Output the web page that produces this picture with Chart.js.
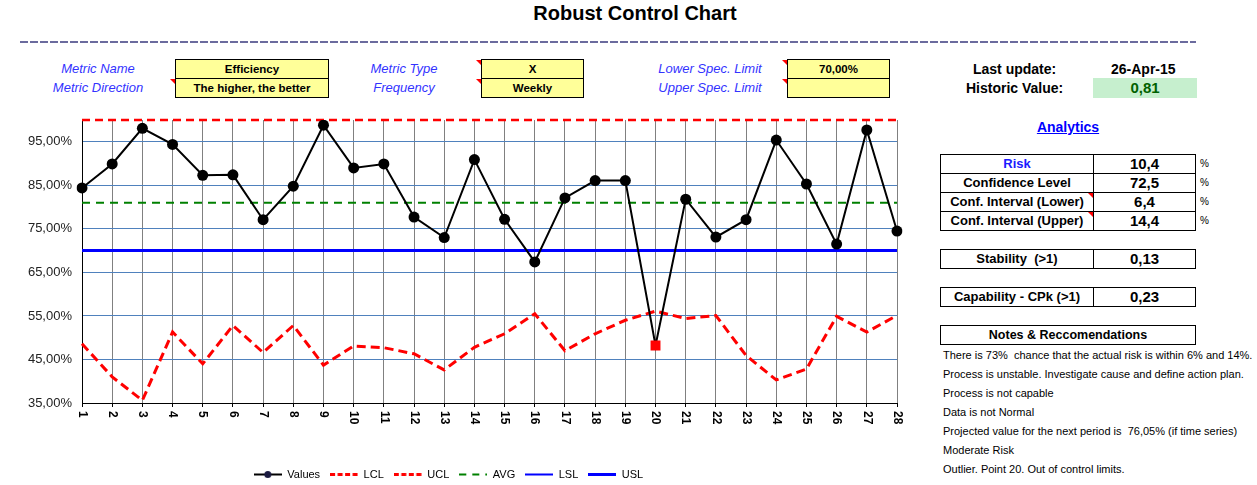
<!DOCTYPE html>
<html>
<head>
<meta charset="utf-8">
<script src="https://cdn.jsdelivr.net/npm/chart.js@4"></script>
<style>
body{margin:0;background:#fff;font-family:Arial,"Liberation Sans",sans-serif;}
#page{position:relative;width:1257px;height:485px;overflow:hidden;}
.a{position:absolute;white-space:nowrap;}
.lbl{position:absolute;width:120px;text-align:center;font-style:italic;font-size:13px;color:#3333ff;line-height:19px;}
.ybox{position:absolute;top:59px;height:39px;background:#ffff99;border:1px solid #000;box-sizing:border-box;}
.ybox div{height:18px;line-height:18px;text-align:center;font-weight:bold;font-size:11.5px;}
.ybox div+div{border-top:1px solid #000;}
.tri{position:absolute;width:0;height:0;border-top:5px solid #f00;border-left:5px solid transparent;}
.hdr{position:absolute;font-weight:bold;font-size:14px;line-height:19px;}
table.t{position:absolute;left:940px;width:256px;border-collapse:collapse;}
table.t td{border:1px solid #000;height:18px;padding:0;text-align:center;line-height:18px;}
table.t td.k{width:152px;font-weight:bold;font-size:13px;position:relative;}
table.t td.v{font-weight:bold;font-size:15px;}
.pct{position:absolute;left:1200px;font-size:10px;line-height:19px;color:#000;}
.note{position:absolute;left:943px;font-size:11px;line-height:19px;}
</style>
</head>
<body>
<div id="page">
  <div class="a" style="left:0;width:1270px;top:1px;text-align:center;font-weight:bold;font-size:20px;line-height:24px;">Robust Control Chart</div>
  <div class="a" style="left:20px;top:41px;width:1176px;height:2px;background:repeating-linear-gradient(90deg,#6b6b9e 0 8px,transparent 8px 10px);"></div>

  <div class="lbl" style="left:38px;top:59px;">Metric Name</div>
  <div class="lbl" style="left:38px;top:78px;">Metric Direction</div>
  <div class="ybox" style="left:175px;width:154px;"><div>Efficiency</div><div>The higher, the better</div></div>
  <div class="tri" style="left:170px;top:79px;"></div>

  <div class="lbl" style="left:344px;top:59px;">Metric Type</div>
  <div class="lbl" style="left:344px;top:78px;">Frequency</div>
  <div class="ybox" style="left:481px;width:103px;"><div>X</div><div>Weekly</div></div>
  <div class="tri" style="left:476px;top:60px;"></div>
  <div class="tri" style="left:476px;top:79px;"></div>

  <div class="lbl" style="left:650px;top:59px;">Lower Spec. Limit</div>
  <div class="lbl" style="left:650px;top:78px;">Upper Spec. Limit</div>
  <div class="ybox" style="left:787px;width:103px;"><div>70,00%</div><div></div></div>
  <div class="tri" style="left:782px;top:60px;"></div>
  <div class="tri" style="left:782px;top:79px;"></div>

  <div class="hdr" style="left:973px;top:60px;">Last update:</div>
  <div class="hdr" style="left:1111px;top:60px;">26-Apr-15</div>
  <div class="hdr" style="left:966px;top:79px;">Historic Value:</div>
  <div class="a" style="left:1093px;top:78px;width:104px;height:20px;background:#c6efce;color:#006100;font-weight:bold;font-size:15px;line-height:20px;text-align:center;">0,81</div>

  <div class="a" style="left:1018px;top:118px;width:100px;text-align:center;font-weight:bold;font-size:14px;line-height:18px;color:#0000ff;text-decoration:underline;">Analytics</div>

  <table class="t" style="top:154px;">
    <tr><td class="k" style="color:#1a1aff;">Risk</td><td class="v">10,4</td></tr>
    <tr><td class="k">Confidence Level</td><td class="v">72,5</td></tr>
    <tr><td class="k">Conf. Interval (Lower)<div class="tri" style="right:0;top:0;"></div></td><td class="v">6,4</td></tr>
    <tr><td class="k">Conf. Interval (Upper)<div class="tri" style="right:0;top:0;"></div></td><td class="v">14,4</td></tr>
  </table>
  <div class="pct" style="top:154px;">%</div>
  <div class="pct" style="top:173px;">%</div>
  <div class="pct" style="top:192px;">%</div>
  <div class="pct" style="top:211px;">%</div>

  <table class="t" style="top:249px;">
    <tr><td class="k">Stability &nbsp;(&gt;1)</td><td class="v">0,13</td></tr>
  </table>
  <table class="t" style="top:287px;">
    <tr><td class="k">Capability - CPk (&gt;1)</td><td class="v">0,23</td></tr>
  </table>
  <table class="t" style="top:325px;">
    <tr><td style="font-weight:bold;font-size:12.5px;">Notes &amp; Reccomendations</td></tr>
  </table>

  <div class="note" style="top:346px;">There is 73% &nbsp;chance that the actual risk is within 6% and 14%.</div>
  <div class="note" style="top:365px;">Process is unstable. Investigate cause and define action plan.</div>
  <div class="note" style="top:384px;">Process is not capable</div>
  <div class="note" style="top:403px;">Data is not Normal</div>
  <div class="note" style="top:422px;">Projected value for the next period is &nbsp;76,05% (if time series)</div>
  <div class="note" style="top:441px;">Moderate Risk</div>
  <div class="note" style="top:460px;">Outlier. Point 20. Out of control limits.</div>

  <canvas id="chart" width="930" height="380" style="position:absolute;left:0;top:110px;"></canvas>
</div>

<script>
const categories = ['1', '2', '3', '4', '5', '6', '7', '8', '9', '10', '11', '12', '13', '14',
                    '15', '16', '17', '18', '19', '20', '21', '22', '23', '24', '25', '26', '27', '28'];
const values = [84.4, 89.9, 98.1, 94.4, 87.3, 87.4, 77.1, 84.8, 98.8, 89.0, 89.9, 77.7, 73.0, 90.9,
                77.2, 67.4, 82.1, 86.1, 86.1, 48.2, 81.8, 73.1, 77.1, 95.4, 85.3, 71.5, 97.7, 74.5];
const lcl = [48.6, 41.0, 35.6, 51.3, 44.0, 52.8, 46.6, 52.8, 43.7, 48.1, 47.7, 46.3, 42.6, 47.8,
             50.9, 55.5, 47.0, 50.9, 54.0, 56.1, 54.4, 55.1, 45.9, 40.3, 42.8, 54.9, 51.3, 55.1];
const uclLevel = 100;
const avgLevel = 81.0;
const lslLevel = 70;
const uslLevel = null; // not set
const outliers = [20];
const yTicks = [35, 45, 55, 65, 75, 85, 95];

function legendIcon(color, width, dash, dot) {
    const c = document.createElement('canvas');
    c.width = 28; c.height = 9;
    const g = c.getContext('2d');
    g.strokeStyle = color;
    g.lineWidth = width;
    g.setLineDash(dash);
    g.beginPath(); g.moveTo(0, 4.5); g.lineTo(28, 4.5); g.stroke();
    if (dot) {
        g.fillStyle = dot;
        g.beginPath(); g.arc(14, 4.5, 3.5, 0, Math.PI * 2); g.fill();
    }
    return c;
}

const isOutlier = ctx => outliers.includes(Number(categories[ctx.dataIndex]));

// x labels read top-to-bottom like the spreadsheet, so draw them ourselves
const xLabels = {
    id: 'xLabels',
    afterDraw(chart) {
        const sc = chart.scales.x, ctx = chart.ctx;
        ctx.save();
        ctx.font = 'bold 12px Arial, "Liberation Sans"';
        ctx.fillStyle = '#000';
        ctx.textAlign = 'left';
        ctx.textBaseline = 'middle';
        sc.ticks.forEach((t, i) => {
            ctx.save();
            ctx.translate(sc.getPixelForTick(i), sc.top + 8);
            ctx.rotate(Math.PI / 2);
            ctx.fillText(categories[i], 0, 0);
            ctx.restore();
        });
        ctx.restore();
    }
};

new Chart(document.getElementById('chart'), {
    type: 'line',
    data: {
        labels: categories,
        datasets: [
            {
                label: 'Values', data: values, icon: legendIcon('#000', 2, [], '#1a1a40'),
                borderColor: '#000', borderWidth: 2,
                pointStyle: ctx => isOutlier(ctx) ? 'rect' : 'circle',
                pointRadius: ctx => isOutlier(ctx) ? 7 : 5.5,
                pointBackgroundColor: ctx => isOutlier(ctx) ? '#ff0000' : '#000',
                pointBorderColor: ctx => isOutlier(ctx) ? '#ff0000' : '#000',
                pointBorderWidth: 0
            },
            {
                label: 'LCL', data: lcl, icon: legendIcon('#ff0000', 3, [5, 2.5]),
                borderColor: '#ff0000', borderWidth: 3, borderDash: [9, 5], pointRadius: 0
            },
            {
                label: 'UCL', data: categories.map(() => uclLevel), icon: legendIcon('#ff0000', 3, [5, 2.5]),
                borderColor: '#ff0000', borderWidth: 2.5, borderDash: [8, 5], pointRadius: 0, clip: false
            },
            {
                label: 'AVG', data: categories.map(() => avgLevel), icon: legendIcon('#008000', 2, [7, 6]),
                borderColor: '#008000', borderWidth: 2, borderDash: [8, 6], pointRadius: 0
            },
            {
                label: 'LSL', data: categories.map(() => lslLevel), icon: legendIcon('#0000ff', 2, []),
                borderColor: '#0000ff', borderWidth: 3, pointRadius: 0
            },
            {
                label: 'USL', data: categories.map(() => uslLevel), icon: legendIcon('#0000ff', 3, []),
                borderColor: '#0000ff', borderWidth: 3, pointRadius: 0
            }
        ]
    },
    options: {
        responsive: false,
        animation: false,
        events: [],
        layout: { padding: { left: 0, right: 33, top: 10, bottom: 0 } },
        elements: { line: { tension: 0 } },
        plugins: {
            tooltip: { enabled: false },
            legend: {
                position: 'bottom',
                labels: {
                    usePointStyle: true,
                    pointStyleWidth: 28,
                    padding: 10,
                    color: '#000',
                    font: { family: 'Arial, "Liberation Sans"', size: 11 },
                    generateLabels(chart) {
                        const items = Chart.defaults.plugins.legend.labels.generateLabels(chart);
                        items.forEach(it => { it.pointStyle = chart.data.datasets[it.datasetIndex].icon; });
                        return items;
                    }
                }
            }
        },
        scales: {
            x: {
                offset: false,
                grid: { color: '#808080', tickLength: 4, tickColor: '#000' },
                border: { color: '#000' },
                ticks: { display: false },
                afterFit(s) { s.height = s.chart.height - 293 - s.chart.legend.height; }
            },
            y: {
                min: 35,
                max: 100,
                grid: { color: '#4f81bd', drawTicks: false },
                border: { color: '#000' },
                ticks: {
                    padding: 10,
                    color: '#222',
                    font: { family: 'Arial, "Liberation Sans"', size: 13 },
                    callback: v => v.toFixed(2).replace('.', ',') + '%'
                },
                afterBuildTicks(s) { s.ticks = yTicks.map(v => ({ value: v })); },
                afterFit(s) { s.width = 82; s.paddingTop = 0; s.paddingBottom = 0; }
            }
        }
    },
    plugins: [xLabels]
});
</script>
</body>
</html>
